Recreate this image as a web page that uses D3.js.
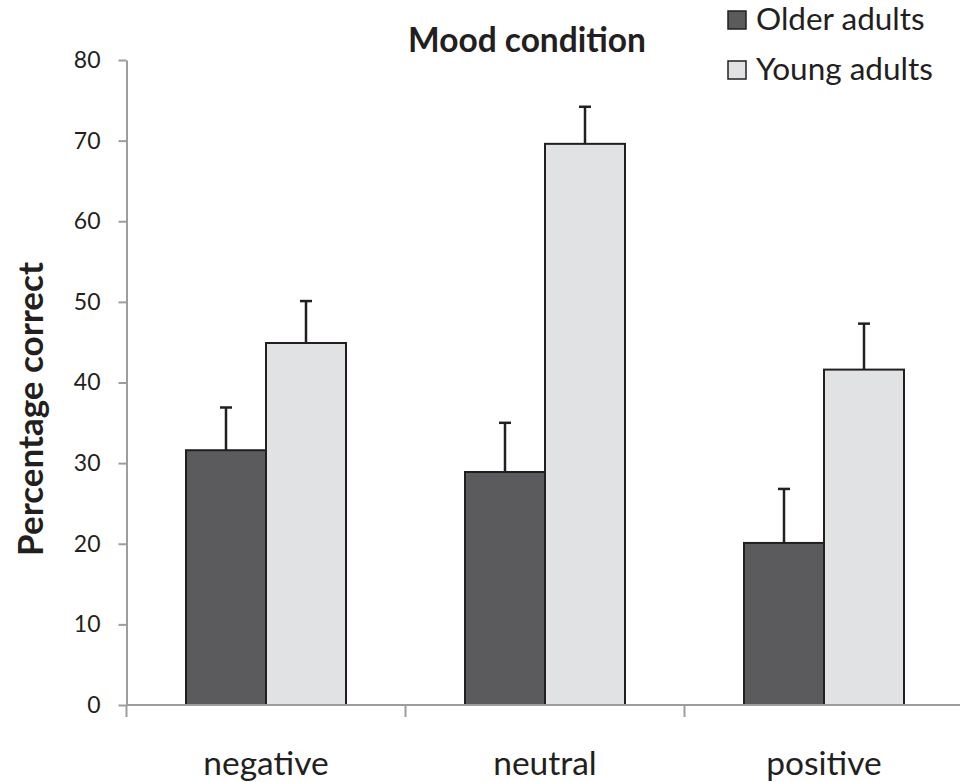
<!DOCTYPE html>
<html><head><meta charset="utf-8">
<script src="https://cdn.jsdelivr.net/npm/d3@7"></script>
<style>body{margin:0;background:#fff}svg{display:block}text{font-family:Lato,"Open Sans",sans-serif;fill:#231f20}</style>
</head><body><svg id="c" width="960" height="782"></svg>
<script>
const categories = ["negative","neutral","positive"];
const series = ["Older adults","Young adults"];
const olderValues = [31.6, 28.9, 20.1];
const youngValues = [44.9, 69.6, 41.6];
const olderErrors = [5.3, 6.1, 6.7];
const youngErrors = [5.2, 4.6, 5.7];
const yTicks = [0,10,20,30,40,50,60,70,80];
const colors = ["#5b5b5d","#e1e2e4"];

const svg = d3.select("#c");
const x0 = d3.scaleBand().domain(categories).range([126.5, 963.5]).padding(0);
const x1 = d3.scaleBand().domain(series).range([0,160]);
const y = d3.scaleLinear().domain([0,80]).range([705,60]);
const off = (x0.bandwidth()-160)/2;

const data = categories.map((c,i)=>({c, vals:[olderValues[i],youngValues[i]], errs:[olderErrors[i],youngErrors[i]]}));

// bars
const g = svg.append("g");
data.forEach(d=>{
  series.forEach((s,j)=>{
    const bx = x0(d.c)+off+x1(s);
    g.append("rect").attr("x",bx).attr("y",y(d.vals[j])).attr("width",x1.bandwidth()).attr("height",y(0)-y(d.vals[j]))
      .attr("fill",colors[j]).attr("stroke","#231f20").attr("stroke-width",2);
    const cx = bx + x1.bandwidth()/2;
    g.append("line").attr("x1",cx).attr("x2",cx).attr("y1",y(d.vals[j])).attr("y2",y(d.vals[j]+d.errs[j]))
      .attr("stroke","#231f20").attr("stroke-width",2.5);
    g.append("line").attr("x1",cx-6).attr("x2",cx+6).attr("y1",y(d.vals[j]+d.errs[j])).attr("y2",y(d.vals[j]+d.errs[j]))
      .attr("stroke","#231f20").attr("stroke-width",2.5);
  });
});

// y axis
const ya = svg.append("g").attr("transform","translate(126.5,0)").call(d3.axisLeft(y).tickValues(yTicks).tickSize(8).tickPadding(18).tickSizeOuter(0));
ya.select(".domain").attr("stroke","#9d9da1").attr("stroke-width",2);
ya.selectAll(".tick line").attr("stroke","#9d9da1").attr("stroke-width",2);
ya.selectAll(".tick text").attr("font-size",23).attr("fill","#231f20").style("font-family","Lato,sans-serif");

// x axis
const xa = svg.append("g").attr("transform","translate(0,705)");
xa.append("line").attr("x1",126.5).attr("x2",960).attr("y1",0).attr("y2",0).attr("stroke","#9d9da1").attr("stroke-width",2);
categories.forEach(c=>{
  xa.append("line").attr("x1",x0(c)).attr("x2",x0(c)).attr("y1",0).attr("y2",12).attr("stroke","#9d9da1").attr("stroke-width",2);
  xa.append("text").attr("x",x0(c)+x0.bandwidth()/2).attr("y",70).attr("text-anchor","middle").attr("font-size",33.5).text(c);
});

// title
svg.append("text").attr("x",527).attr("y",52).attr("text-anchor","middle").attr("font-size",33.5).attr("font-weight","bold").text("Mood condition");
// y label
svg.append("text").attr("transform","translate(43,409) rotate(-90)").attr("text-anchor","middle").attr("font-size",35).attr("font-weight","bold").text("Percentage correct");

// legend
series.forEach((s,j)=>{
  const ly = 20 + j*50;
  svg.append("rect").attr("x",728).attr("y",ly-9).attr("width",18).attr("height",18).attr("fill",colors[j]).attr("stroke","#231f20").attr("stroke-width",1.5);
  svg.append("text").attr("x",756).attr("y",ly+10).attr("font-size",31.5).text(s);
});
</script></body></html>
